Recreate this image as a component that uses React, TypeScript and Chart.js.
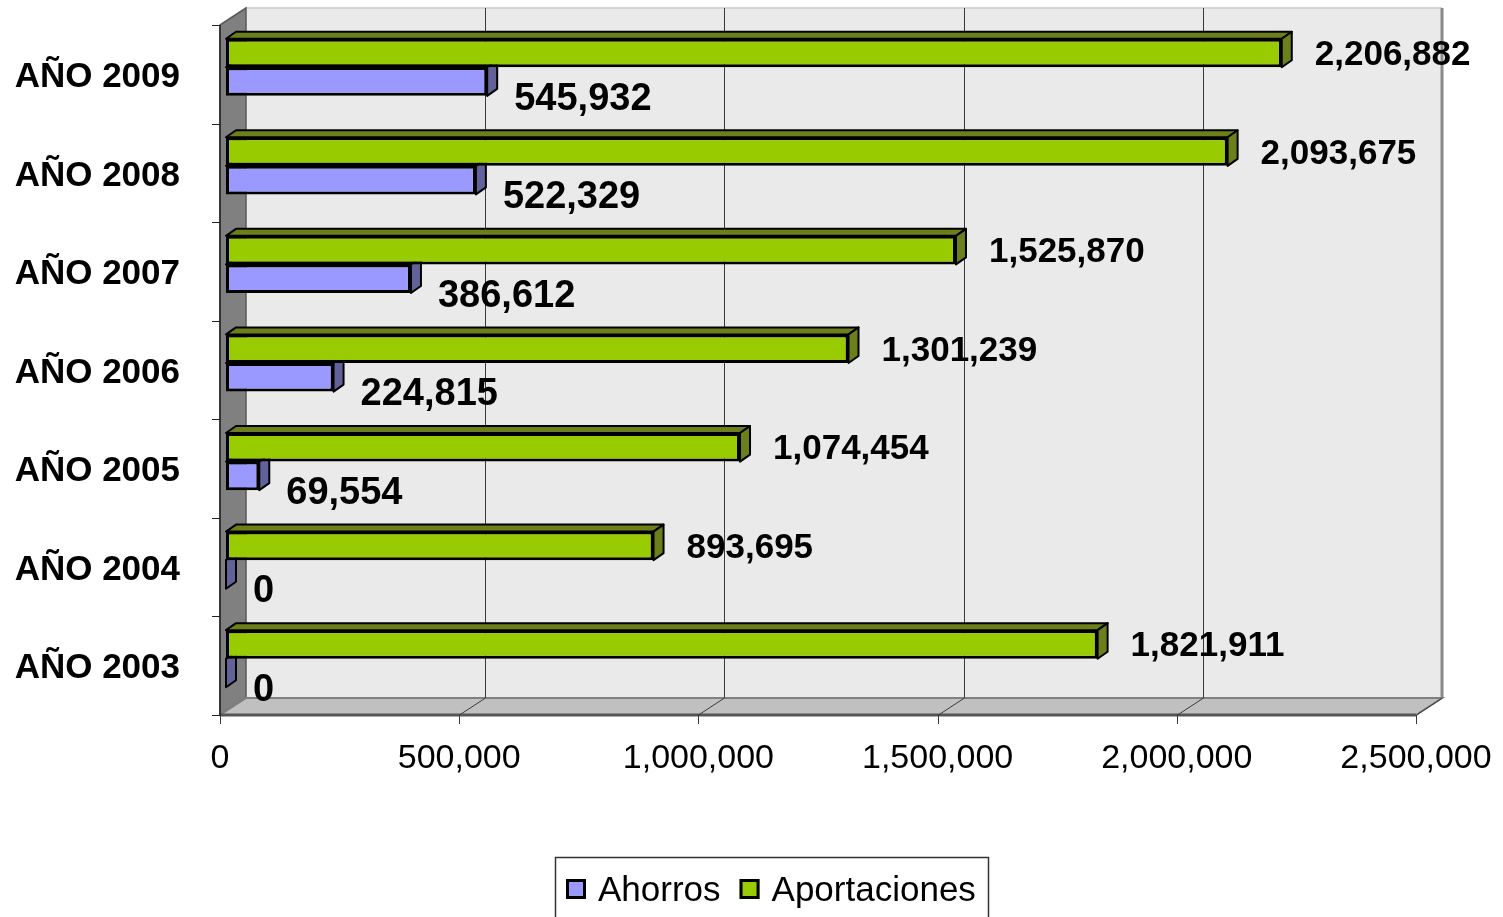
import React, { useEffect, useRef } from "react";
import { Chart, registerables } from "chart.js";

Chart.register(...registerables);

const categories = ["AÑO 2009", "AÑO 2008", "AÑO 2007", "AÑO 2006", "AÑO 2005", "AÑO 2004", "AÑO 2003"];
const aportaciones = [2206882, 2093675, 1525870, 1301239, 1074454, 893695, 1821911];
const ahorros = [545932, 522329, 386612, 224815, 69554, 0, 0];
const xTicks = [0, 500000, 1000000, 1500000, 2000000, 2500000];
const seriesNames = ["Aportaciones", "Ahorros"];
const legendOrder = ["Ahorros", "Aportaciones"];

const FONT = "'Liberation Sans', Arial, sans-serif";
const GREEN = "#99CC00";
const GREEN_DARK = "#6B7F1A";
const PURPLE = "#9999FF";
const PURPLE_DARK = "#62629A";

const fmt = (v: number) => v.toLocaleString("en-US");

const zeroPad = (s: any) => {
  s.paddingTop = 0;
  s.paddingBottom = 0;
  s.paddingLeft = 0;
  s.paddingRight = 0;
};

const wallPlugin = {
  id: "walls3d",
  beforeDatasetsDraw(chart: any) {
    const { ctx, chartArea, scales } = chart;
    const xs = scales.x;
    const FX = (v: number) => xs.getPixelForValue(v) - 6;
    const fTop = chartArea.top + 7;
    const fBot = chartArea.bottom + 7;
    const DX = 26;
    const DY = -17;
    const x0 = FX(xTicks[0]);
    const x1 = FX(xTicks[xTicks.length - 1]);
    ctx.save();
    // back wall
    ctx.fillStyle = "#EAEAEA";
    ctx.fillRect(x0 + DX, fTop + DY, x1 - x0, fBot - fTop);
    ctx.strokeStyle = "#D4D4D4";
    ctx.lineWidth = 2;
    ctx.beginPath();
    ctx.moveTo(x0 + DX, fTop + DY);
    ctx.lineTo(x1 + DX, fTop + DY);
    ctx.stroke();
    ctx.strokeStyle = "#8A8A8A";
    ctx.lineWidth = 3;
    ctx.beginPath();
    ctx.moveTo(x1 + DX, fTop + DY);
    ctx.lineTo(x1 + DX, fBot + DY);
    ctx.stroke();
    // left wall
    ctx.fillStyle = "#808080";
    ctx.beginPath();
    ctx.moveTo(x0, fTop);
    ctx.lineTo(x0 + DX, fTop + DY);
    ctx.lineTo(x0 + DX, fBot + DY);
    ctx.lineTo(x0, fBot);
    ctx.closePath();
    ctx.fill();
    ctx.strokeStyle = "#5A5A5A";
    ctx.lineWidth = 1.5;
    ctx.stroke();
    // floor
    ctx.fillStyle = "#C0C0C0";
    ctx.beginPath();
    ctx.moveTo(x0, fBot);
    ctx.lineTo(x0 + DX, fBot + DY);
    ctx.lineTo(x1 + DX, fBot + DY);
    ctx.lineTo(x1, fBot);
    ctx.closePath();
    ctx.fill();
    ctx.strokeStyle = "#808080";
    ctx.lineWidth = 2;
    ctx.stroke();
    ctx.strokeStyle = "#555555";
    ctx.lineWidth = 3;
    ctx.beginPath();
    ctx.moveTo(x0, fBot);
    ctx.lineTo(x1, fBot);
    ctx.stroke();
    // gridlines
    ctx.strokeStyle = "#3A3A3A";
    ctx.lineWidth = 1;
    xTicks.forEach((t, i) => {
      const fx = Math.round(FX(t)) + 0.5;
      if (i > 0 && i < xTicks.length - 1) {
        ctx.beginPath();
        ctx.moveTo(fx + DX, fTop + DY);
        ctx.lineTo(fx + DX, fBot + DY);
        ctx.stroke();
      }
      if (i > 0) {
        ctx.beginPath();
        ctx.moveTo(fx, fBot);
        ctx.lineTo(fx + DX, fBot + DY);
        ctx.stroke();
      }
      ctx.beginPath();
      ctx.moveTo(fx, fBot);
      ctx.lineTo(fx, fBot + 9);
      ctx.stroke();
    });
    // left axis line & ticks
    ctx.strokeStyle = "#222222";
    ctx.lineWidth = 1.5;
    ctx.beginPath();
    ctx.moveTo(x0, fTop);
    ctx.lineTo(x0, fBot);
    ctx.stroke();
    const n = categories.length;
    ctx.lineWidth = 1;
    for (let k = 0; k <= n; k++) {
      const y = Math.round(fTop + ((fBot - fTop) * k) / n) + 0.5;
      ctx.beginPath();
      ctx.moveTo(x0 - 8, y);
      ctx.lineTo(x0, y);
      ctx.stroke();
    }
    // 3D bar faces
    const bdx = 10;
    const bdy = -7;
    chart.data.datasets.forEach((ds: any, di: number) => {
      const meta = chart.getDatasetMeta(di);
      const dark = ds.label === "Aportaciones" ? GREEN_DARK : PURPLE_DARK;
      meta.data.forEach((el: any) => {
        const { x, y, base, height } = el.getProps(["x", "y", "base", "height"], true);
        const top = y - height / 2;
        const bot = y + height / 2;
        ctx.fillStyle = dark;
        ctx.strokeStyle = "#000";
        ctx.lineWidth = 2;
        ctx.lineJoin = "round";
        ctx.beginPath();
        ctx.moveTo(base, top);
        ctx.lineTo(base + bdx, top + bdy);
        ctx.lineTo(x + bdx, top + bdy);
        ctx.lineTo(x, top);
        ctx.closePath();
        ctx.fill();
        ctx.stroke();
        ctx.beginPath();
        ctx.moveTo(x, top);
        ctx.lineTo(x + bdx, top + bdy);
        ctx.lineTo(x + bdx, bot + bdy);
        ctx.lineTo(x, bot);
        ctx.closePath();
        ctx.fill();
        ctx.stroke();
      });
    });
    ctx.restore();
  },
  afterDatasetsDraw(chart: any) {
    const { ctx } = chart;
    ctx.save();
    ctx.fillStyle = "#000";
    ctx.textAlign = "left";
    ctx.textBaseline = "alphabetic";
    chart.data.datasets.forEach((ds: any, di: number) => {
      const meta = chart.getDatasetMeta(di);
      const isGreen = ds.label === "Aportaciones";
      ctx.font = isGreen ? `bold 35px ${FONT}` : `bold 38px ${FONT}`;
      meta.data.forEach((el: any, i: number) => {
        const { x, y } = el.getProps(["x", "y"], true);
        const v = ds.data[i];
        if (isGreen) ctx.fillText(fmt(v), x + 33, y + 12);
        else ctx.fillText(fmt(v), x + 27, y + 28);
      });
    });
    ctx.restore();
  },
  afterDraw(chart: any) {
    const { ctx } = chart;
    ctx.save();
    ctx.strokeStyle = "#333333";
    ctx.lineWidth = 1.5;
    ctx.strokeRect(555.5, 857.5, 433, 80);
    ctx.font = `35px ${FONT}`;
    ctx.textBaseline = "alphabetic";
    ctx.textAlign = "left";
    let x = 566;
    legendOrder.forEach((name) => {
      const ds = chart.data.datasets.find((d: any) => d.label === name);
      ctx.fillStyle = ds.backgroundColor;
      ctx.fillRect(x, 879, 20, 20);
      ctx.strokeStyle = "#000";
      ctx.lineWidth = 3;
      ctx.strokeRect(x + 1.5, 880.5, 17, 17);
      ctx.fillStyle = "#000";
      ctx.fillText(name, x + 32, 901);
      x += 32 + ctx.measureText(name).width + 19;
    });
    ctx.restore();
  },
};

export default function App() {
  const ref = useRef<HTMLCanvasElement | null>(null);
  useEffect(() => {
    if (!ref.current) return;
    const chart = new Chart(ref.current, {
      type: "bar",
      data: {
        labels: categories,
        datasets: [
          {
            label: seriesNames[0],
            data: aportaciones,
            backgroundColor: GREEN,
            borderColor: "#000",
            borderWidth: 3,
            borderSkipped: false,
          },
          {
            label: seriesNames[1],
            data: ahorros,
            backgroundColor: PURPLE,
            borderColor: "#000",
            borderWidth: 3,
            borderSkipped: false,
          },
        ],
      },
      options: {
        indexAxis: "y",
        responsive: false,
        animation: false,
        devicePixelRatio: 1,
        layout: { padding: { top: 18, right: 81, left: 0, bottom: 0 } },
        datasets: {
          bar: { categoryPercentage: 0.58, barPercentage: 1.0 },
        },
        plugins: {
          legend: { display: false },
          tooltip: { enabled: false },
        },
        scales: {
          x: {
            min: 0,
            max: 2500000,
            border: { display: false },
            grid: { display: false, drawTicks: false },
            afterFit: (s: any) => {
              s.height = 209;
              zeroPad(s);
            },
            afterBuildTicks: (s: any) => {
              s.ticks = xTicks.map((v) => ({ value: v }));
            },
            ticks: {
              autoSkip: false,
              maxRotation: 0,
              labelOffset: -6,
              padding: 30,
              color: "#000",
              font: { family: FONT, size: 34 },
              callback: (v: any) => fmt(Number(v)),
            },
          },
          y: {
            border: { display: false },
            grid: { display: false, drawTicks: false },
            afterFit: (s: any) => {
              s.width = 226;
              zeroPad(s);
            },
            ticks: {
              padding: 46,
              labelOffset: 10,
              color: "#000",
              font: { family: FONT, size: 35, weight: "bold" },
            },
          },
        },
      },
      plugins: [wallPlugin],
    });
    return () => chart.destroy();
  }, []);
  return (
    <div style={{ position: "fixed", left: 0, top: 0, width: 1503, height: 917, background: "#fff" }}>
      <canvas ref={ref} width={1503} height={917} style={{ display: "block" }} />
    </div>
  );
}
